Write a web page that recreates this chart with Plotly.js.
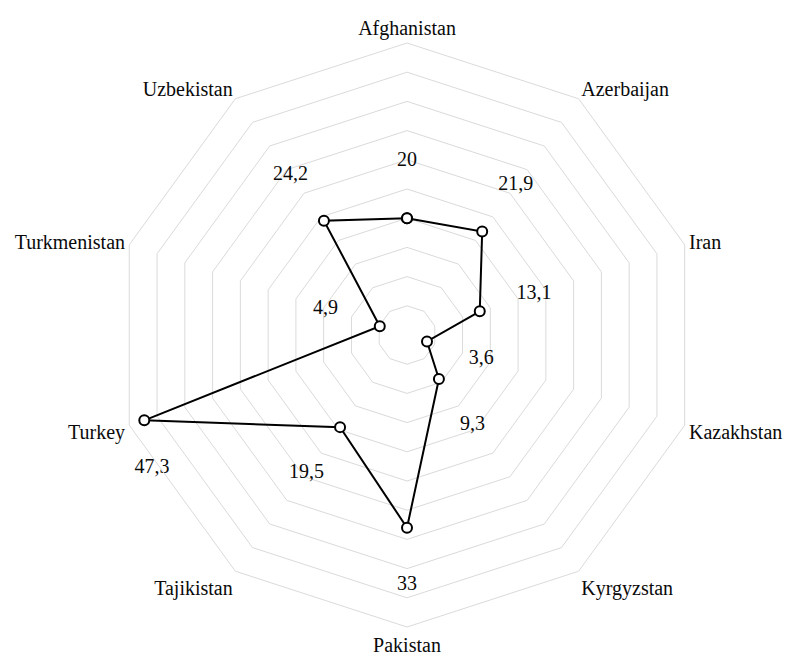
<!DOCTYPE html>
<html>
<head>
<meta charset="utf-8">
<script src="https://cdn.plot.ly/plotly-3.0.1.min.js"></script>
<style>html,body{margin:0;padding:0;background:#fff}#chart{width:786px;height:660px}</style>
</head>
<body>
<div id="chart"></div>
<script>
const countries = ["Afghanistan","Azerbaijan","Iran","Kazakhstan","Kyrgyzstan","Pakistan","Tajikistan","Turkey","Turkmenistan","Uzbekistan"];
const values = [20, 21.9, 13.1, 3.6, 9.3, 33, 19.5, 47.3, 4.9, 24.2];
const valueLabels = ["20","21,9","13,1","3,6","9,3","33","19,5","47,3","4,9","24,2"];

const maxR = 50;
const labelOffset = 9.76;

// labels pushed radially outward; a label that would leave the chart is tucked below its point
const outside = values.map(v => v + labelOffset > maxR);
const labelR = values.map((v, i) => (outside[i] ? v - 1.4 : v + labelOffset));
const labelPos = outside.map(o => (o ? "bottom center" : "middle center"));
const labelPad = outside.map(o => (o ? 62 : 0));

const font = {family: "Liberation Serif, Times New Roman, serif", size: 20, color: "#0a0a0a"};

const traces = [
  {
    type: "scatterpolar",
    r: values.concat([values[0]]),
    theta: countries.concat([countries[0]]),
    mode: "lines+markers",
    line: {color: "#000", width: 2},
    marker: {size: 10, color: "#fff", line: {color: "#000", width: 2}},
    hoverinfo: "skip",
    cliponaxis: false
  },
  {
    type: "scatterpolar",
    r: labelR,
    theta: countries,
    mode: "markers+text",
    marker: {size: labelPad, color: "rgba(0,0,0,0)", line: {width: 0}},
    text: valueLabels,
    textposition: labelPos,
    textfont: font,
    hoverinfo: "skip",
    cliponaxis: false
  }
];

const layout = {
  width: 786,
  height: 660,
  margin: {l: 115, r: 87, t: 43, b: 33},
  paper_bgcolor: "#fff",
  showlegend: false,
  font: font,
  polar: {
    bgcolor: "#fff",
    gridshape: "linear",
    radialaxis: {
      range: [0, maxR],
      dtick: 5,
      showgrid: true,
      gridcolor: "#dadada",
      gridwidth: 1,
      showticklabels: false,
      ticks: "",
      showline: false
    },
    angularaxis: {
      type: "category",
      categoryorder: "array",
      categoryarray: countries,
      rotation: 90,
      direction: "clockwise",
      showgrid: false,
      ticks: "",
      showline: true,
      linecolor: "#dadada",
      linewidth: 1,
      tickfont: font
    }
  }
};

Plotly.newPlot("chart", traces, layout, {displayModeBar: false, staticPlot: true});
</script>
</body>
</html>
